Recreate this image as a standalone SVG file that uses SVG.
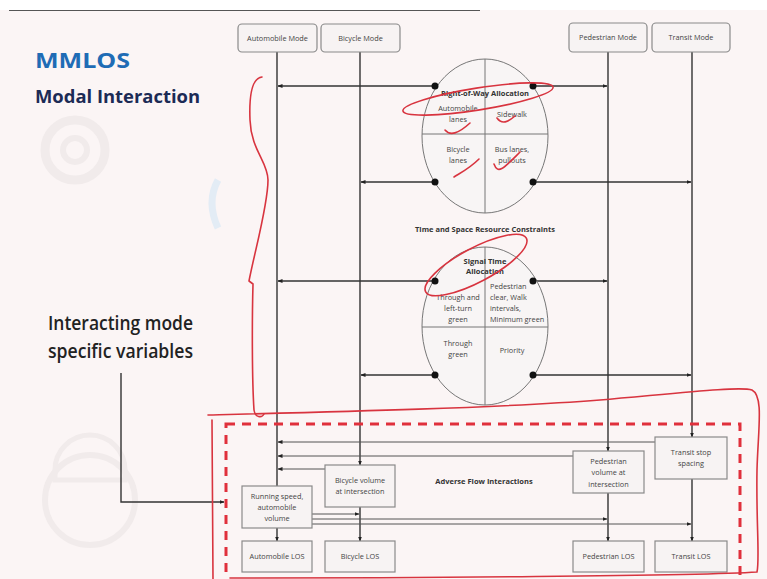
<svg xmlns="http://www.w3.org/2000/svg" width="767" height="579" viewBox="0 0 767 579">
<defs>
<marker id="ah" viewBox="0 0 10 10" refX="9" refY="5" markerWidth="5" markerHeight="5" orient="auto-start-reverse" markerUnits="userSpaceOnUse">
<path d="M0,1 L10,5 L0,9 z" fill="#222"/>
</marker>
<style>
.bg{fill:#fbf5f5}
.ln{stroke:#333;stroke-width:1.4;fill:none}
.lna{stroke:#333;stroke-width:1.4;fill:none;marker-end:url(#ah)}
.lnb{stroke:#555;stroke-width:1;fill:none;marker-end:url(#ah)}
.mode{fill:#f7f3f3;stroke:#8a8a8a;stroke-width:1.2}
.box{fill:#f7f3f3;stroke:#8a8a8a;stroke-width:1.2}
.ell{fill:#f8f5f5;stroke:#777;stroke-width:1}
.div{stroke:#777;stroke-width:1}
.dot{fill:#111}
.t{font-family:"Open Sans","Liberation Sans",sans-serif;font-size:7.3px;fill:#444;text-anchor:middle}
.tl{font-family:"Open Sans","Liberation Sans",sans-serif;font-size:7.3px;fill:#444}
.tb{font-family:"Open Sans","Liberation Sans",sans-serif;font-size:7.5px;font-weight:bold;fill:#333;text-anchor:middle}
.red{stroke:#d8343f;stroke-width:1.6;fill:none;stroke-linecap:round;stroke-linejoin:round}
.wm{fill:none;stroke:#f1ebeb}
</style>
</defs>
<rect class="bg" x="0" y="0" width="767" height="579"/>
<rect x="0" y="0" width="767" height="10" fill="#ffffff"/>
<line x1="9" y1="10.5" x2="480" y2="10.5" stroke="#555" stroke-width="1.2"/>
<!-- watermarks -->
<g>
<circle class="wm" cx="75" cy="150" r="30" stroke-width="9"/>
<circle class="wm" cx="75" cy="150" r="12" stroke-width="6"/>
<path class="wm" d="M55,470 a35,35 0 0 1 70,0 v10 h-70 z" stroke-width="5"/>
<circle class="wm" cx="90" cy="500" r="45" stroke-width="6"/>
<path d="M218,180 q-12,22 0,48" fill="none" stroke="#e3ecf5" stroke-width="7"/>
</g>
<!-- titles -->
<text x="35" y="68" font-family="'Open Sans','Liberation Sans',sans-serif" font-size="22" font-weight="bold" fill="#1f6cb5" textLength="95" lengthAdjust="spacingAndGlyphs">MMLOS</text>
<text x="35" y="103" font-family="'Open Sans','Liberation Sans',sans-serif" font-size="18" font-weight="bold" fill="#1c2b55" textLength="165" lengthAdjust="spacingAndGlyphs">Modal Interaction</text>
<g id="label-interacting">
<text x="48" y="330" font-family="'Open Sans','Liberation Sans',sans-serif" font-size="19" font-weight="600" fill="#222" textLength="145" lengthAdjust="spacingAndGlyphs">Interacting mode</text>
<text x="48" y="358" font-family="'Open Sans','Liberation Sans',sans-serif" font-size="19" font-weight="600" fill="#222" textLength="145" lengthAdjust="spacingAndGlyphs">specific variables</text>
</g>
<!-- connectors -->
<g id="connectors">
<line class="ln" x1="277" y1="52" x2="277" y2="486"/>
<line class="lna" x1="360" y1="52" x2="360" y2="465"/>
<line class="lna" x1="608" y1="52" x2="608" y2="451"/>
<line class="lna" x1="692" y1="52" x2="692" y2="437"/>
<line class="lna" x1="435" y1="86" x2="278" y2="86"/>
<line class="lna" x1="533" y1="86" x2="607" y2="86"/>
<line class="lna" x1="435" y1="182" x2="361" y2="182"/>
<line class="lna" x1="533" y1="182" x2="691" y2="182"/>
<line class="lna" x1="435" y1="281" x2="278" y2="281"/>
<line class="lna" x1="533" y1="281" x2="607" y2="281"/>
<line class="lna" x1="435" y1="375" x2="361" y2="375"/>
<line class="lna" x1="533" y1="375" x2="691" y2="375"/>
<line class="lnb" x1="655" y1="442" x2="278" y2="442"/>
<line class="lnb" x1="573" y1="456" x2="278" y2="456"/>
<line class="lnb" x1="325" y1="469" x2="278" y2="469"/>
<line class="lna" x1="277" y1="528" x2="277" y2="541"/>
<line class="lna" x1="360" y1="507" x2="360" y2="541"/>
<line class="lna" x1="608" y1="493" x2="608" y2="541"/>
<line class="lna" x1="692" y1="479" x2="692" y2="541"/>
<line class="lnb" x1="312" y1="514" x2="359" y2="514"/>
<line class="lnb" x1="312" y1="519" x2="607" y2="519"/>
<line class="lnb" x1="312" y1="524" x2="691" y2="524"/>
<polyline class="lna" points="121,373 121,502 224,502"/>
</g>
<!-- top mode nodes -->
<g id="automobile-mode"><rect class="mode" x="238" y="24" width="79" height="28" rx="4"/><text class="t" x="277.5" y="41">Automobile Mode</text></g>
<g id="bicycle-mode"><rect class="mode" x="321" y="24" width="79" height="28" rx="4"/><text class="t" x="360.5" y="41">Bicycle Mode</text></g>
<g id="pedestrian-mode"><rect class="mode" x="569" y="23" width="78" height="29" rx="4"/><text class="t" x="608" y="40">Pedestrian Mode</text></g>
<g id="transit-mode"><rect class="mode" x="652" y="23" width="78" height="29" rx="4"/><text class="t" x="691" y="40">Transit Mode</text></g>
<!-- right-of-way ellipse -->
<g id="row-allocation">
<ellipse class="ell" cx="485" cy="136" rx="63" ry="77"/>
<line class="div" x1="485" y1="59" x2="485" y2="213"/>
<line class="div" x1="422" y1="134" x2="548" y2="134"/>
<text class="tb" x="485" y="96">Right-of-Way Allocation</text>
<text class="t" x="458" y="111">Automobile</text><text class="t" x="458" y="122">lanes</text>
<text class="t" x="512" y="117">Sidewalk</text>
<text class="t" x="458" y="152">Bicycle</text><text class="t" x="458" y="163">lanes</text>
<text class="t" x="512" y="152">Bus lanes,</text><text class="t" x="512" y="163">pullouts</text>
<circle class="dot" cx="435" cy="86" r="3.5"/><circle class="dot" cx="533" cy="86" r="3.5"/>
<circle class="dot" cx="435" cy="182" r="3.5"/><circle class="dot" cx="533" cy="182" r="3.5"/>
</g>
<text class="tb" x="485" y="232">Time and Space Resource Constraints</text>
<!-- signal time ellipse -->
<g id="signal-allocation">
<ellipse class="ell" cx="485" cy="326" rx="63" ry="79"/>
<line class="div" x1="485" y1="247" x2="485" y2="405"/>
<line class="div" x1="422" y1="327" x2="548" y2="327"/>
<text class="tb" x="485" y="264">Signal Time</text><text class="tb" x="485" y="274">Allocation</text>
<text class="t" x="458" y="300">Through and</text><text class="t" x="458" y="311">left-turn</text><text class="t" x="458" y="322">green</text>
<text class="tl" x="490" y="289">Pedestrian</text><text class="tl" x="490" y="300">clear, Walk</text><text class="tl" x="490" y="311">intervals,</text><text class="tl" x="490" y="322">Minimum green</text>
<text class="t" x="458" y="346">Through</text><text class="t" x="458" y="357">green</text>
<text class="t" x="512" y="353">Priority</text>
<circle class="dot" cx="435" cy="281" r="3.5"/><circle class="dot" cx="533" cy="281" r="3.5"/>
<circle class="dot" cx="435" cy="375" r="3.5"/><circle class="dot" cx="533" cy="375" r="3.5"/>
</g>
<!-- dashed region -->
<rect x="226" y="424" width="514" height="160" fill="none" stroke="#e0303c" stroke-width="3" stroke-dasharray="9,7"/>
<text class="tb" x="484" y="484">Adverse Flow Interactions</text>
<g id="running-speed"><rect class="box" x="242" y="486" width="70" height="42"/><text class="t" x="277" y="499">Running speed,</text><text class="t" x="277" y="510">automobile</text><text class="t" x="277" y="521">volume</text></g>
<g id="bicycle-volume"><rect class="box" x="325" y="465" width="70" height="42"/><text class="t" x="360" y="483">Bicycle volume</text><text class="t" x="360" y="494">at intersection</text></g>
<g id="pedestrian-volume"><rect class="box" x="573" y="451" width="71" height="42"/><text class="t" x="608.5" y="464">Pedestrian</text><text class="t" x="608.5" y="475">volume at</text><text class="t" x="608.5" y="487">intersection</text></g>
<g id="transit-stop"><rect class="box" x="655" y="437" width="72" height="42"/><text class="t" x="691" y="455">Transit stop</text><text class="t" x="691" y="466">spacing</text></g>
<g id="automobile-los"><rect class="box" x="242" y="541" width="70" height="31"/><text class="t" x="277" y="559">Automobile LOS</text></g>
<g id="bicycle-los"><rect class="box" x="325" y="541" width="70" height="31"/><text class="t" x="360" y="559">Bicycle LOS</text></g>
<g id="pedestrian-los"><rect class="box" x="573" y="541" width="71" height="31"/><text class="t" x="608.5" y="559">Pedestrian LOS</text></g>
<g id="transit-los"><rect class="box" x="655" y="541" width="72" height="31"/><text class="t" x="691" y="559">Transit LOS</text></g>
<!-- red annotations -->
<g id="annotations">
<path class="red" d="M262,77 C252,78 249,95 250,120 C251,150 268,162 268,180 C268,205 255,250 249,281 L253,284 C252,320 252,380 254,410 C255,418 262,418 264,414"/>
<path class="red" d="M213,579 L212,420 M208,415 C330,412 500,408 600,400 C680,393 740,386 752,390 C764,396 758,430 757,470 C756,520 760,560 757,572 C700,576 400,578 230,578"/>
<ellipse class="red" cx="478" cy="99" rx="76" ry="11" transform="rotate(-9 478 99)"/>
<ellipse class="red" cx="476" cy="265" rx="57" ry="17" transform="rotate(-28 476 265)"/>
<path class="red" d="M445,130 C450,136 458,134 470,123"/>
<path class="red" d="M497,118 C502,125 508,122 515,116"/>
<path class="red" d="M454,177 C462,172 470,168 479,159"/>
<path class="red" d="M494,164 C498,175 504,168 520,152"/>
</g>
</svg>
